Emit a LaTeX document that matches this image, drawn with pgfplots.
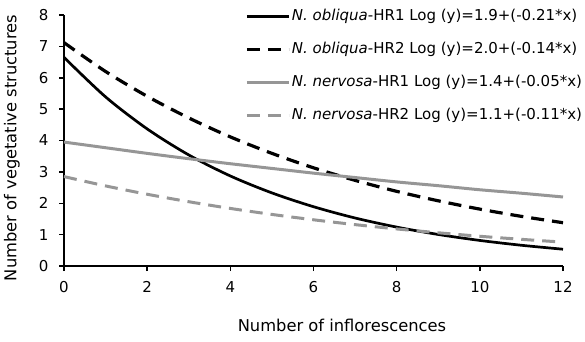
\documentclass[border=0pt]{standalone}
\usepackage{pgfplots}
\pgfplotsset{compat=1.18}
\usepackage{fontspec}
\setmainfont{DejaVu Sans}
\definecolor{lgray}{RGB}{150,150,150}
\begin{document}
\begin{tikzpicture}
\path[use as bounding box] (-64pt,-75pt) rectangle (521pt,266pt);
\begin{axis}[
  at={(0pt,0pt)}, anchor=south west,
  scale only axis, width=499pt, height=251pt,
  xmin=0, xmax=12, ymin=0, ymax=8,
  xtick={0,2,...,12}, ytick={0,1,...,8},
  axis lines*=left, axis line style={line width=1.8pt, black},
  tick align=outside, major tick length=5pt,
  tick style={line width=1.5pt, black},
  /pgf/number format/assume math mode=true,
  ticklabel style={font=\fontsize{15}{17}\selectfont},
  yticklabel style={xshift=-7pt},
  xticklabel style={yshift=-7pt},
  xlabel={Number of inflorescences}, ylabel={Number of vegetative structures},
  label style={font=\fontsize{16.3}{18}\selectfont},
  xlabel style={at={(axis description cs:0.557,-0.235)}, anchor=center},
  ylabel style={at={(axis description cs:-0.1042,0.47)}, anchor=center},
  clip=false,
  legend style={draw=none, fill=none, at={(axis description cs:0.3627,1.026)}, anchor=north west,
    font=\fontsize{15}{18}\selectfont, row sep=18pt, inner sep=0pt,
    nodes={inner xsep=1.5pt, inner ysep=0pt, text height=11.5pt, text depth=3.5pt},
    cells={anchor=west}},
  legend image code/.code={\draw[#1] (0pt,0pt) -- (42pt,0pt);},
]
\addplot[black, line width=2.7pt, smooth] coordinates {
(0,6.65) (1,5.39) (2,4.37) (3,3.54) (4,2.87) (5,2.33) (6,1.89) (7,1.53) (8,1.24) (9,1.005) (10,0.815) (11,0.661) (12,0.535)};
\addlegendentry{\textit{N. obliqua}-HR1 Log (y)=1.9+(-0.21*x)}
\addplot[black, line width=3.2pt, smooth, dash pattern=on 13pt off 8pt] coordinates {
(0,7.12) (1,6.20) (2,5.41) (3,4.72) (4,4.115) (5,3.59) (6,3.13) (7,2.73) (8,2.38) (9,2.078) (10,1.813) (11,1.582) (12,1.380)};
\addlegendentry{\textit{N. obliqua}-HR2 Log (y)=2.0+(-0.14*x)}
\addplot[lgray, line width=3pt, smooth] coordinates {
(0,3.95) (1,3.77) (2,3.59) (3,3.42) (4,3.26) (5,3.11) (6,2.96) (7,2.82) (8,2.68) (9,2.56) (10,2.43) (11,2.32) (12,2.20)};
\addlegendentry{\textit{N. nervosa}-HR1 Log (y)=1.4+(-0.05*x)}
\addplot[lgray, line width=3pt, smooth, dash pattern=on 13pt off 8pt] coordinates {
(0,2.85) (1,2.553) (2,2.287) (3,2.049) (4,1.835) (5,1.644) (6,1.473) (7,1.319) (8,1.182) (9,1.059) (10,0.948) (11,0.850) (12,0.761)};
\addlegendentry{\textit{N. nervosa}-HR2 Log (y)=1.1+(-0.11*x)}
\end{axis}
\end{tikzpicture}
\end{document}
